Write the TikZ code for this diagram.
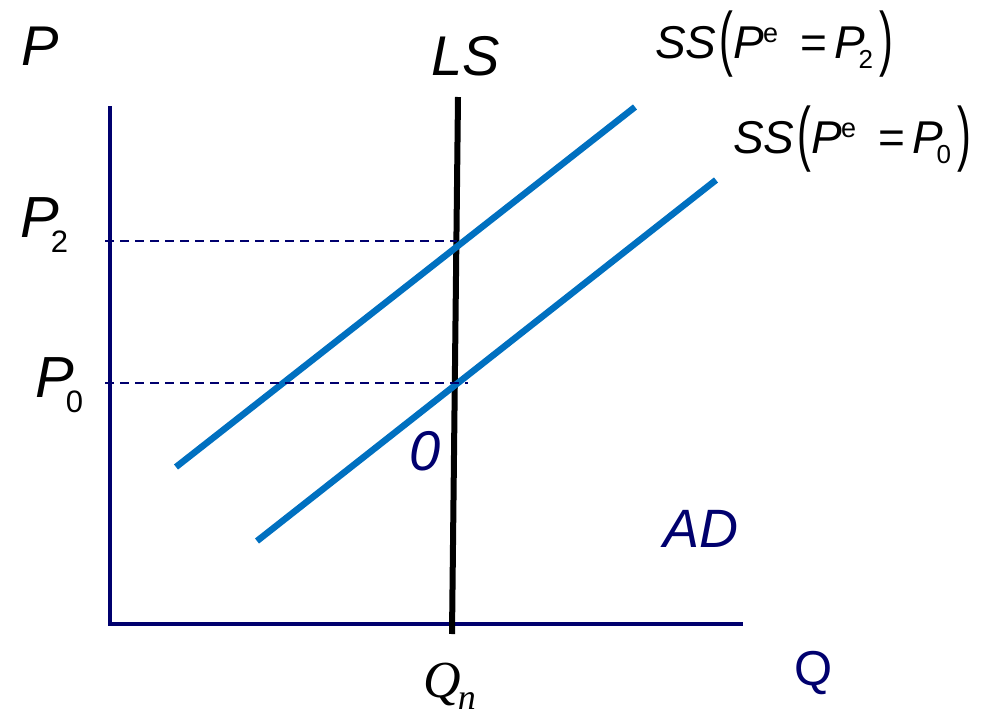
\documentclass[tikz,border=0pt]{standalone}
\usepackage{fontspec}
\setmainfont{Liberation Sans}
\newfontfamily\timesf{Liberation Serif}
\usepackage{graphicx}
\definecolor{navy}{RGB}{0,0,110}
\definecolor{ssblue}{RGB}{0,112,192}
\newcommand{\fs}[1]{\fontsize{#1}{#1}\selectfont}
\newcommand{\sslabel}[1]{\fs{46}\textit{SS}\kern3pt\raisebox{-4pt}{\scalebox{0.9}[1.55]{(}}\textit{P}\kern-1pt\raisebox{16pt}{\fs{27}e}\hspace{22pt}=\hspace{8pt}\textit{P}\kern-7pt\raisebox{-10pt}{\fs{26}#1}\kern6pt\raisebox{-4pt}{\scalebox{0.9}[1.55]{)}}}
\begin{document}
\begin{tikzpicture}[x=1pt,y=-1pt,
  lbl/.style={inner sep=0pt,anchor=base west},
  axis/.style={draw=navy,line width=4.5pt},
  ssline/.style={draw=ssblue,line width=6.5pt},
  lsline/.style={draw=black,line width=6pt},
  guide/.style={draw=navy,line width=1.8pt,dash pattern=on 9pt off 6pt}]
\useasboundingbox (0,0) rectangle (986,718);
% axes
\coordinate (ytop) at (110,106);
\coordinate (xend) at (743,624);
\draw[axis] (ytop) |- (xend);
% LS
\coordinate (lstop) at (458,97);
\coordinate (lsbot) at (452,634);
\draw[lsline] (lstop) -- (lsbot);
% SS curves
\coordinate (s2a) at (176,467);
\coordinate (s2b) at (635,107);
\coordinate (s0a) at (257,541);
\coordinate (s0b) at (716,180);
\draw[ssline] (s2a) -- (s2b);
\draw[ssline] (s0a) -- (s0b);
% guides
\coordinate (g2a) at (105,241);
\coordinate (g2b) at (457,241);
\coordinate (g0a) at (105,383);
\coordinate (g0b) at (468,383);
\draw[guide] (g2a) -- (g2b);
\draw[guide] (g0a) -- (g0b);
% labels
\node[lbl] (plab) at (21,65) {\fs{56}\textit{P}};
\node[lbl] (lslab) at (431,75) {\fs{56}\textit{LS}};
\node[lbl] (p2lab) at (20,237) {\fs{58}\textit{P}\kern-8pt\raisebox{-15pt}{\fs{31}2}};
\node[lbl] (p0lab) at (35,397) {\fs{58}\textit{P}\kern-8pt\raisebox{-15pt}{\fs{31}0}};
\node[lbl,text=navy] (zero) at (409,470) {\fs{56}\textit{0}};
\node[lbl,text=navy] (adlab) at (663,547) {\fs{54}\textit{AD}};
\node[lbl,text=navy] (qlab) at (794,685) {\fs{49}Q};
\node[lbl] (qnlab) at (423,697) {\timesf\fs{52}\textit{Q}\kern-3pt\raisebox{-12pt}{\fs{36}\textit{n}}};
\node[lbl] (ss2lab) at (655,58) {\sslabel{2}};
\node[lbl] (ss0lab) at (733,153) {\sslabel{0}};
\end{tikzpicture}
\end{document}
